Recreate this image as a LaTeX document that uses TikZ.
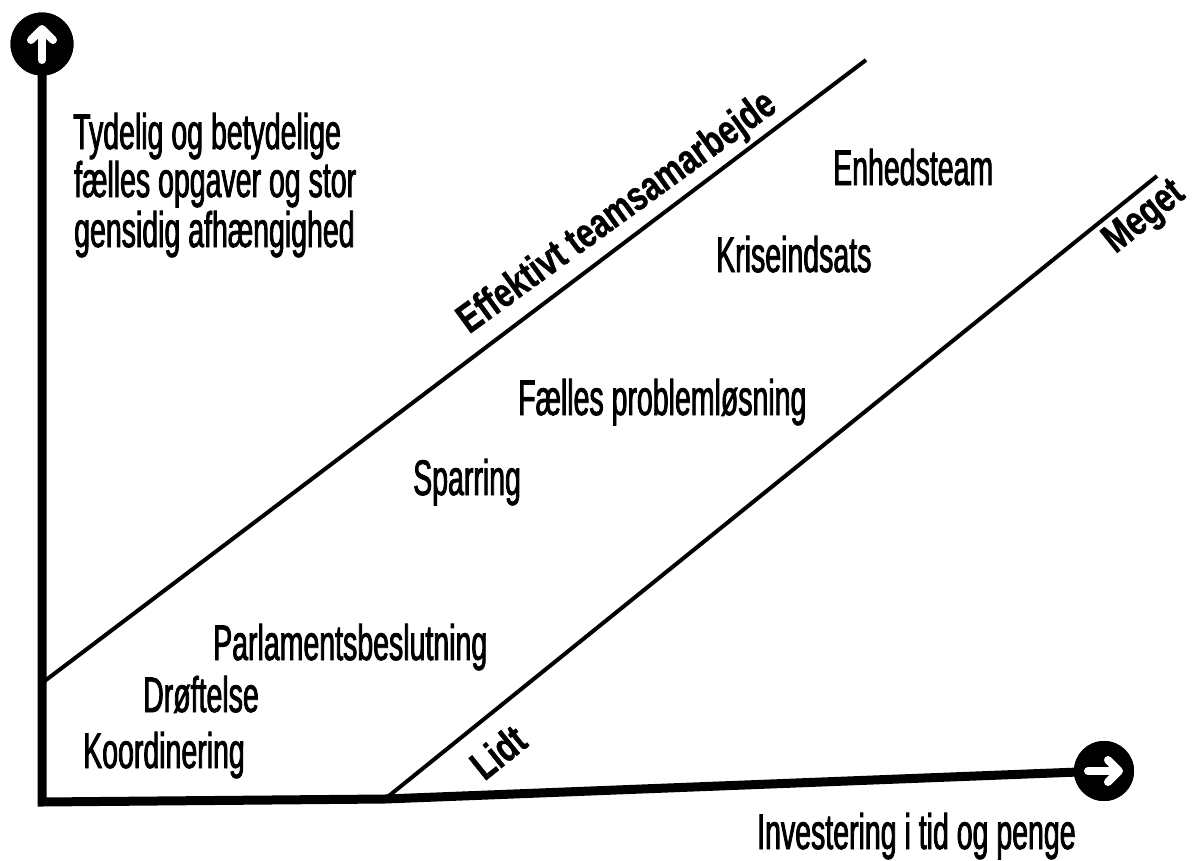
\documentclass[tikz,border=0pt]{standalone}
\usepackage{fontspec}
\setmainfont{Liberation Sans}
\newfontfamily\bodyfont{Liberation Sans}[FakeStretch=0.57,FakeBold=1.6]
\newfontfamily\lblfont{Liberation Sans Bold}[FakeStretch=0.77,FakeBold=1]
\begin{document}
\begin{tikzpicture}[x=1pt,y=-1pt,
  body/.style={font=\bodyfont\fontsize{50}{50}\selectfont, inner sep=0pt, anchor=base west},
  lbl/.style={font=\lblfont\fontsize{41}{41}\selectfont, inner sep=0pt},
  axisline/.style={line width=9pt, line join=miter},
  diag/.style={line width=4pt},
  badge/.style={circle, fill=black, inner sep=0pt},
  glyph/.style={white, line width=8pt, line cap=round, line join=round}]
\useasboundingbox (0,0) rectangle (1192,860);

% badges
\node[badge, minimum size=63pt] (up) at (42,44) {};
\node[badge, minimum size=60pt] (right) at (1104,771) {};

% axes
\coordinate (corner) at (42,802);
\coordinate (bend) at (385,799);
\draw[axisline] (up.center) -- (corner) -- (bend) -- (right.center);
\node[badge, minimum size=63pt] at (up) {};
\node[badge, minimum size=60pt] at (right) {};

\begin{scope}[shift={(up.center)}]
  \draw[glyph] (0,16) -- (0,-12);
  \draw[glyph] (-11,-4) -- (0,-15) -- (11,-4);
\end{scope}
\begin{scope}[shift={(right.center)}]
  \draw[glyph] (-16,0) -- (12,0);
  \draw[glyph] (4,-11) -- (15,0) -- (4,11);
\end{scope}

% diagonal lines
\coordinate (a1) at (42,683);
\coordinate (a2) at (866,60);
\coordinate (b2) at (1157,176);
\draw[diag] (a1) -- (a2);
\draw[diag] (bend) -- (b2);

% line labels
\node[lbl, rotate=36, anchor=base] (eff) at (624,222) {Effektivt teamsamarbejde};
\node[lbl, rotate=38.8] (lidt) at (498,752) {Lidt};
\node[lbl, rotate=38.8] (meget) at (1145,218) {Meget};

% texts
\node[body] (t1) at (73,149) {Tydelig og betydelige};
\node[body] (t2) at (74,197) {fælles opgaver og stor};
\node[body] (t3) at (74,247) {gensidig afhængighed};
\node[body] (enh) at (833,185) {Enhedsteam};
\node[body] (kri) at (716,272) {Kriseindsats};
\node[body] (fpl) at (518,415) {Fælles problemløsning};
\node[body] (spa) at (413,495) {Sparring};
\node[body] (par) at (213,660) {Parlamentsbeslutning};
\node[body] (dro) at (143,712) {Drøftelse};
\node[body] (koo) at (83,768) {Koordinering};
\node[body] (inv) at (757,849) {Investering i tid og penge};
\end{tikzpicture}
\end{document}
